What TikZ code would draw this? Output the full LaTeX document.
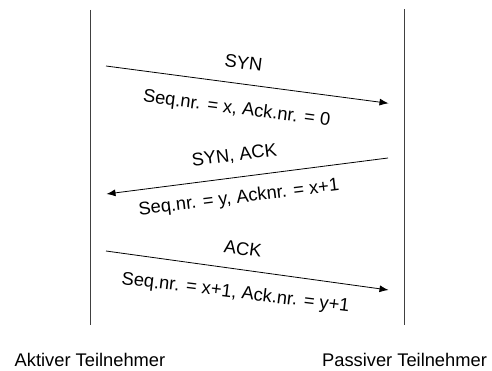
\documentclass[tikz,border=0pt]{standalone}
\usepackage{fontspec}
\setmainfont{Liberation Sans}
\usetikzlibrary{arrows.meta}
\begin{document}
\begin{tikzpicture}[x=1pt,y=-1pt,
  lifeline/.style={draw=black!75,line width=0.9pt},
  msg/.style={draw=black,line width=0.8pt,-{Latex[length=9pt,width=7pt]}},
  lbl/.style={font=\fontsize{18.3}{20}\selectfont,inner sep=0pt,anchor=base},
  party/.style={font=\fontsize{18.3}{20}\selectfont,inner sep=0pt,anchor=base}]
  \useasboundingbox (0,0) rectangle (492,371);

  % lifelines of the two hosts
  \coordinate (aTop) at (90.7,10);
  \coordinate (aBot) at (90.7,325);
  \coordinate (pTop) at (404.7,9.5);
  \coordinate (pBot) at (404.7,325);
  \draw[lifeline] (aTop) -- (aBot);
  \draw[lifeline] (pTop) -- (pBot);

  % message end points
  \coordinate (m1s) at (106,66);
  \coordinate (m1e) at (388.5,103.3);
  \coordinate (m2s) at (388,158);
  \coordinate (m2e) at (106.5,194);
  \coordinate (m3s) at (106,251);
  \coordinate (m3e) at (388.5,290);

  % three-way handshake
  \draw[msg] (m1s) -- (m1e);
  \draw[msg] (m2s) -- (m2e);
  \draw[msg] (m3s) -- (m3e);

  \node[lbl,rotate=-7.4] (t1a) at (242.7,69) {SYN};
  \node[lbl,rotate=-7.4] (t1b) at (236,114) {Seq.nr. = x, Ack.nr. = 0};
  \node[lbl,rotate=7.2] (t2a) at (235,161) {SYN, ACK};
  \node[lbl,rotate=7.0] (t2b) at (239.5,203) {Seq.nr. = y, Acknr. = x+1};
  \node[lbl,rotate=-7.6] (t3a) at (242,255) {ACK};
  \node[lbl,rotate=-7.0] (t3b) at (235,298) {Seq.nr. = x+1, Ack.nr. = y+1};

  % participants
  \node[party] (aktiv) at (90,366.7) {Aktiver Teilnehmer};
  \node[party] (passiv) at (404.5,366.7) {Passiver Teilnehmer};
\end{tikzpicture}
\end{document}
